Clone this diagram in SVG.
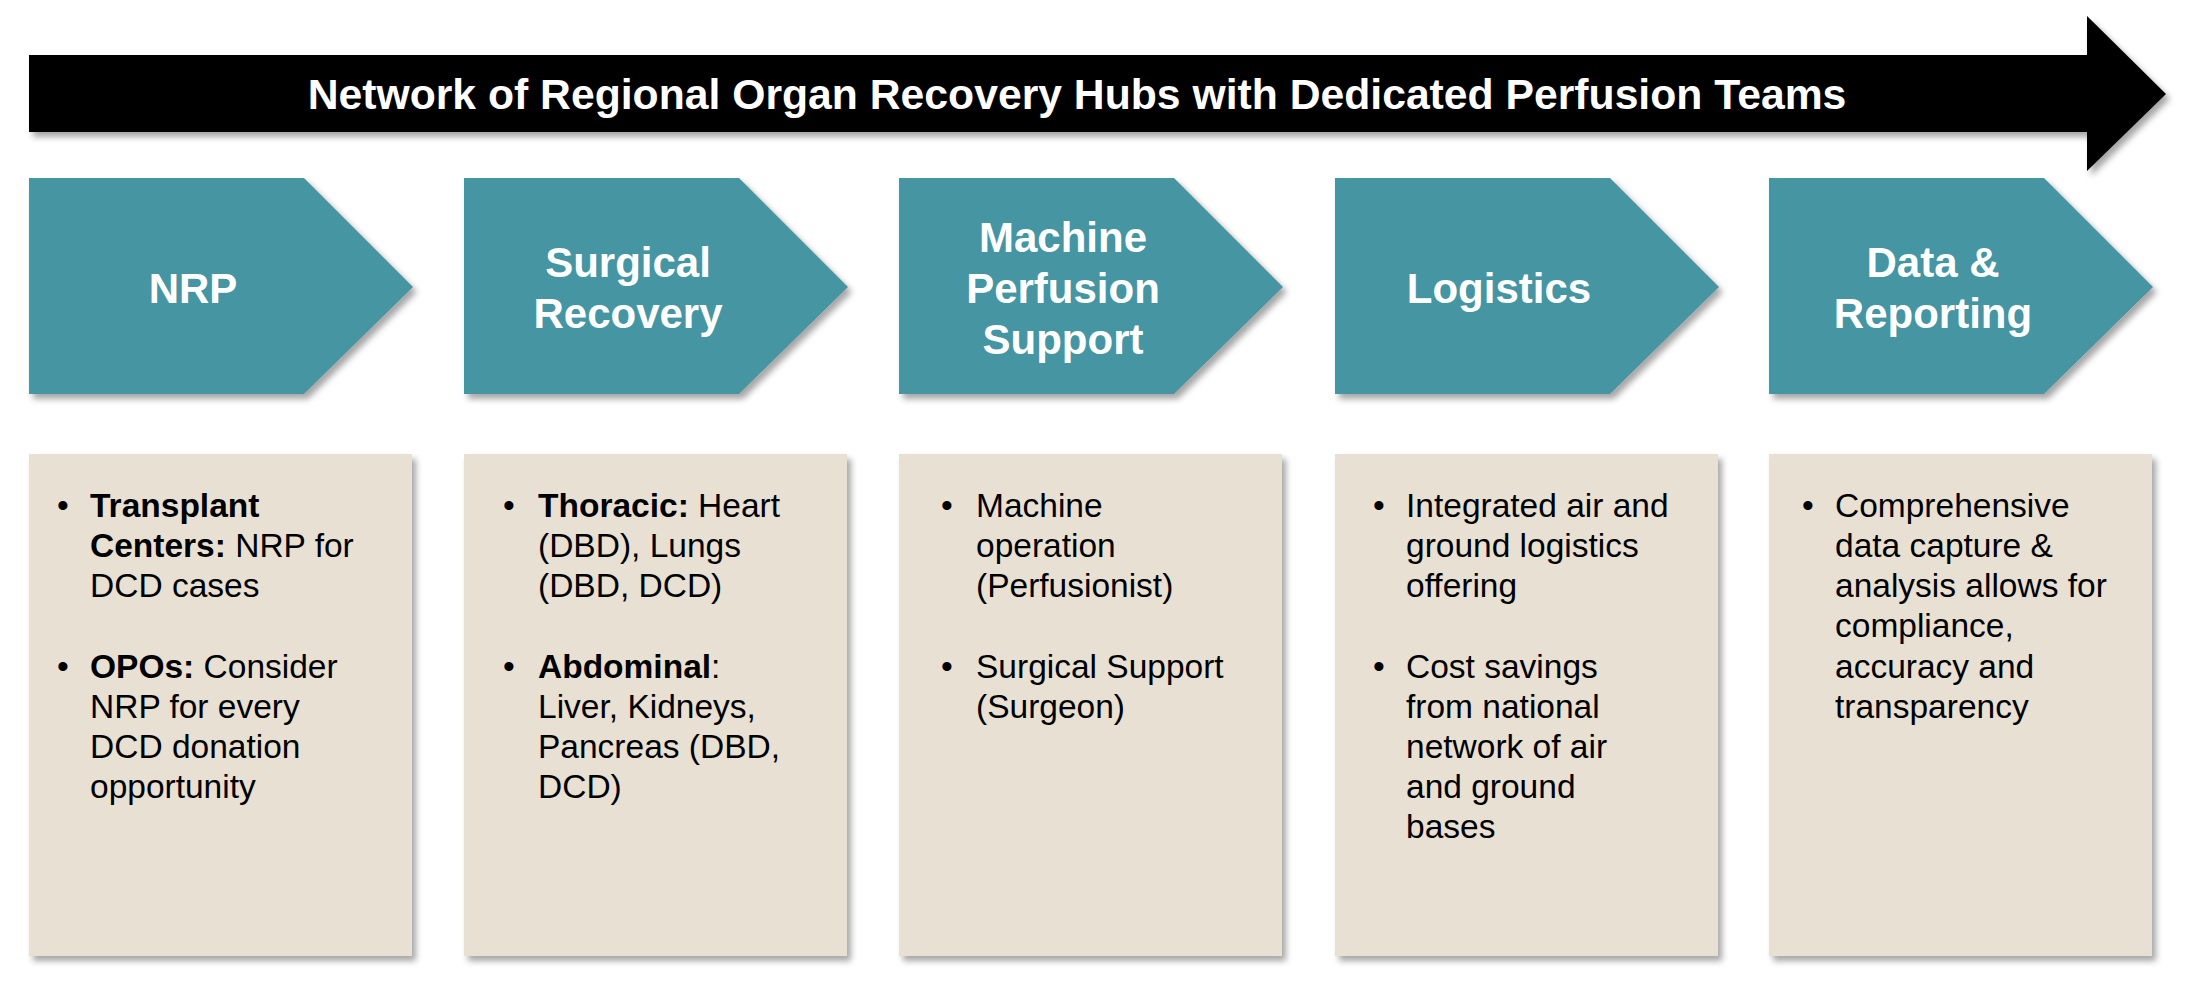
<svg xmlns="http://www.w3.org/2000/svg" width="2196" height="1000" viewBox="0 0 2196 1000">
<defs>
<style>
.title{font-family:"Liberation Sans",Arial,sans-serif;font-weight:bold;font-size:42.7px;fill:#fff;text-anchor:middle}
.lab{font-family:"Liberation Sans",Arial,sans-serif;font-weight:bold;font-size:42px;fill:#fff;text-anchor:middle}
.body{font-family:"Liberation Sans",Arial,sans-serif;font-size:33.5px;fill:#000}
.b{font-weight:bold}
.chev{fill:#4595A3}
.box{fill:#E8E0D2}
</style>
<filter id="sh" x="-10%" y="-10%" width="125%" height="125%">
<feDropShadow dx="4" dy="5" stdDeviation="3" flood-color="#000" flood-opacity="0.35"/>
</filter>
</defs>
<rect width="2196" height="1000" fill="#fff"/>
<g id="banner">
<polygon points="29,55 2087,55 2087,16 2166,94 2087,171 2087,132 29,132" fill="#000" filter="url(#sh)"/>
<text class="title" x="1077" y="109">Network of Regional Organ Recovery Hubs with Dedicated Perfusion Teams</text>
</g>
<g id="step-nrp">
<polygon class="chev" points="29,178 304,178 413,287 304,394 29,394" filter="url(#sh)"/>
<text class="lab" x="193" y="303">NRP</text>
</g>
<g id="step-surgical">
<polygon class="chev" points="464,178 739,178 848,287 739,394 464,394" filter="url(#sh)"/>
<text class="lab" x="628" y="277">Surgical</text>
<text class="lab" x="628" y="328">Recovery</text>
</g>
<g id="step-machine">
<polygon class="chev" points="899,178 1174,178 1283,287 1174,394 899,394" filter="url(#sh)"/>
<text class="lab" x="1063" y="252">Machine</text>
<text class="lab" x="1063" y="303">Perfusion</text>
<text class="lab" x="1063" y="354">Support</text>
</g>
<g id="step-logistics">
<polygon class="chev" points="1335,178 1610,178 1719,287 1610,394 1335,394" filter="url(#sh)"/>
<text class="lab" x="1499" y="303">Logistics</text>
</g>
<g id="step-data">
<polygon class="chev" points="1769,178 2044,178 2153,287 2044,394 1769,394" filter="url(#sh)"/>
<text class="lab" x="1933" y="277">Data &amp;</text>
<text class="lab" x="1933" y="328">Reporting</text>
</g>
<g id="box-nrp">
<rect class="box" x="29" y="454" width="383" height="502" filter="url(#sh)"/>
<text class="body" x="57" y="517">•</text>
<text class="body" x="90" y="517"><tspan class="b">Transplant</tspan></text>
<text class="body" x="90" y="557"><tspan class="b">Centers:</tspan> NRP for</text>
<text class="body" x="90" y="597">DCD cases</text>
<text class="body" x="57" y="678">•</text>
<text class="body" x="90" y="678"><tspan class="b">OPOs:</tspan> Consider</text>
<text class="body" x="90" y="718">NRP for every</text>
<text class="body" x="90" y="758">DCD donation</text>
<text class="body" x="90" y="798">opportunity</text>
</g>
<g id="box-surgical">
<rect class="box" x="464" y="454" width="383" height="502" filter="url(#sh)"/>
<text class="body" x="503" y="517">•</text>
<text class="body" x="538" y="517"><tspan class="b">Thoracic:</tspan> Heart</text>
<text class="body" x="538" y="557">(DBD), Lungs</text>
<text class="body" x="538" y="597">(DBD, DCD)</text>
<text class="body" x="503" y="678">•</text>
<text class="body" x="538" y="678"><tspan class="b">Abdominal</tspan>:</text>
<text class="body" x="538" y="718">Liver, Kidneys,</text>
<text class="body" x="538" y="758">Pancreas (DBD,</text>
<text class="body" x="538" y="798">DCD)</text>
</g>
<g id="box-machine">
<rect class="box" x="899" y="454" width="383" height="502" filter="url(#sh)"/>
<text class="body" x="941" y="517">•</text>
<text class="body" x="976" y="517">Machine</text>
<text class="body" x="976" y="557">operation</text>
<text class="body" x="976" y="597">(Perfusionist)</text>
<text class="body" x="941" y="678">•</text>
<text class="body" x="976" y="678">Surgical Support</text>
<text class="body" x="976" y="718">(Surgeon)</text>
</g>
<g id="box-logistics">
<rect class="box" x="1335" y="454" width="383" height="502" filter="url(#sh)"/>
<text class="body" x="1373" y="517">•</text>
<text class="body" x="1406" y="517">Integrated air and</text>
<text class="body" x="1406" y="557">ground logistics</text>
<text class="body" x="1406" y="597">offering</text>
<text class="body" x="1373" y="678">•</text>
<text class="body" x="1406" y="678">Cost savings</text>
<text class="body" x="1406" y="718">from national</text>
<text class="body" x="1406" y="758">network of air</text>
<text class="body" x="1406" y="798">and ground</text>
<text class="body" x="1406" y="838">bases</text>
</g>
<g id="box-data">
<rect class="box" x="1769" y="454" width="383" height="502" filter="url(#sh)"/>
<text class="body" x="1802" y="517">•</text>
<text class="body" x="1835" y="517">Comprehensive</text>
<text class="body" x="1835" y="557">data capture &amp;</text>
<text class="body" x="1835" y="597">analysis allows for</text>
<text class="body" x="1835" y="637">compliance,</text>
<text class="body" x="1835" y="678">accuracy and</text>
<text class="body" x="1835" y="718">transparency</text>
</g>
<g id="connectors"></g>
</svg>
